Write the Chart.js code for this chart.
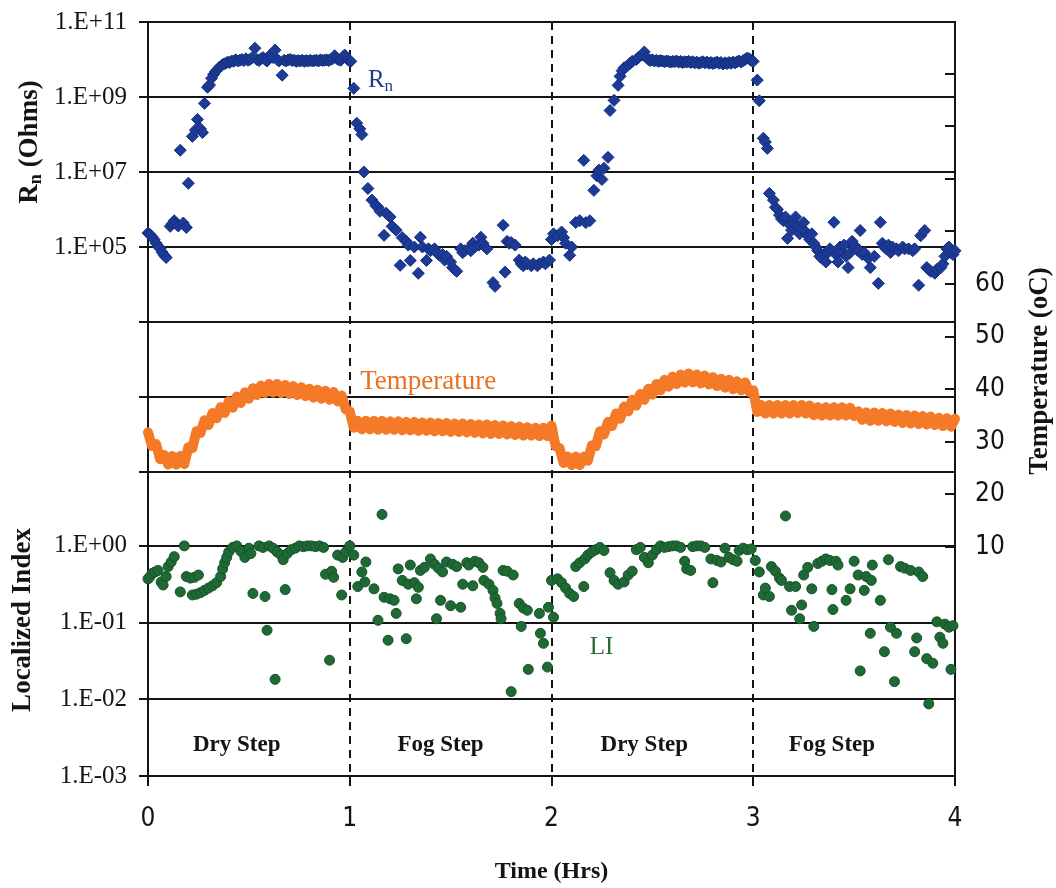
<!DOCTYPE html>
<html><head><meta charset="utf-8">
<script src="https://cdn.jsdelivr.net/npm/chart.js@4.4.1/dist/chart.umd.min.js"></script>
<style>html,body{margin:0;padding:0;background:#fff;}#wrap{width:1056px;height:888px;}</style>
</head><body><div id="wrap"><canvas id="c" width="1056" height="888"></canvas></div>
<script>
// ---------------- data ----------------
// Rn: time (h) and log10(Rn / Ohms)
const rnTime = [0.00,0.01,0.02,0.03,0.04,0.05,0.06,0.07,0.08,0.09,0.11,0.12,0.13,0.14,0.15,0.16,0.175,0.19,0.20,0.22,0.235,0.245,0.26,0.27,0.28,0.295,0.305,0.315,0.325,0.335,0.345,0.355,0.365,0.375,0.385,0.395,0.405,0.415,0.425,0.435,0.445,0.455,0.465,0.475,0.485,0.495,0.505,0.515,0.53,0.54,0.55,0.56,0.57,0.58,0.59,0.60,0.61,0.62,0.63,0.64,0.65,0.665,0.675,0.685,0.695,0.705,0.715,0.725,0.735,0.745,0.755,0.765,0.775,0.785,0.795,0.805,0.815,0.825,0.835,0.845,0.855,0.865,0.875,0.885,0.895,0.905,0.915,0.925,0.935,0.945,0.955,0.965,0.975,0.985,0.995,
1.005,1.02,1.035,1.05,1.06,1.07,1.09,1.11,1.13,1.14,1.15,1.17,1.18,1.20,1.21,1.23,1.25,1.26,1.28,1.29,1.30,1.32,1.34,1.35,1.36,1.38,1.39,1.40,1.42,1.43,1.44,1.46,1.47,1.48,1.50,1.51,1.52,1.53,1.55,1.56,1.57,1.59,1.60,1.61,1.62,1.64,1.65,1.66,1.67,1.68,1.71,1.72,1.76,1.77,1.78,1.79,1.80,1.82,1.84,1.85,1.86,1.87,1.88,1.90,1.91,1.93,1.94,1.96,1.97,1.99,
2.00,2.01,2.03,2.05,2.06,2.07,2.09,2.10,2.12,2.14,2.16,2.17,2.19,2.21,2.225,2.235,2.25,2.26,2.28,2.29,2.31,2.33,2.34,2.35,2.36,2.38,2.39,2.40,2.42,2.43,2.45,2.46,2.47,2.48,2.49,2.50,2.51,2.52,2.53,2.54,2.55,2.56,2.57,2.58,2.59,2.60,2.61,2.62,2.63,2.64,2.65,2.66,2.67,2.68,2.69,2.70,2.71,2.72,2.73,2.74,2.75,2.76,2.77,2.78,2.79,2.80,2.81,2.82,2.83,2.84,2.85,2.86,2.87,2.88,2.89,2.90,2.91,2.92,2.93,2.94,2.95,2.96,2.97,2.98,2.99,3.00,
3.02,3.03,3.05,3.06,3.07,3.08,3.10,3.11,3.12,3.13,3.14,3.15,3.16,3.17,3.18,3.19,3.20,3.21,3.22,3.23,3.24,3.25,3.26,3.27,3.28,3.29,3.30,3.31,3.32,3.33,3.34,3.35,3.36,3.37,3.38,3.40,3.41,3.42,3.43,3.44,3.45,3.46,3.47,3.48,3.49,3.50,3.51,3.52,3.53,3.54,3.55,3.57,3.58,3.60,3.62,3.63,3.64,3.65,3.66,3.67,3.68,3.69,3.71,3.72,3.74,3.75,3.77,3.79,3.80,3.82,3.83,3.85,3.86,3.87,3.88,3.90,3.91,3.93,3.94,3.95,3.96,3.97,3.98,3.99,4.00];
const rnLog10 = [5.37,5.33,5.27,5.20,5.10,5.02,4.96,4.86,4.78,4.72,5.55,5.62,5.70,5.62,5.56,7.58,5.64,5.52,6.70,7.95,8.12,8.40,8.15,8.05,8.83,9.26,9.32,9.50,9.60,9.68,9.74,9.80,9.84,9.88,9.90,9.93,9.92,9.96,9.95,9.99,9.96,9.98,10.00,9.97,10.02,9.98,10.00,10.04,10.30,10.00,9.97,10.02,10.05,10.00,9.96,10.08,10.14,10.05,10.25,10.00,9.96,9.58,9.98,9.96,9.99,10.00,9.97,9.98,9.95,9.97,9.96,9.98,9.95,9.97,9.96,9.98,9.96,9.97,9.98,9.96,9.99,9.97,9.98,9.99,9.97,10.00,10.02,10.10,10.03,9.99,9.98,10.06,10.12,10.02,9.98,
9.95,9.23,8.30,8.15,8.00,7.00,6.56,6.25,6.10,6.06,5.95,5.31,5.90,5.80,5.55,5.45,4.51,5.25,5.15,5.05,4.64,5.00,4.30,5.26,5.00,4.64,4.95,4.90,4.95,4.85,4.80,4.80,4.65,4.75,4.60,4.45,4.40,4.35,4.95,4.85,4.90,4.95,4.90,5.10,5.00,5.05,5.26,5.10,5.00,4.95,4.05,3.95,5.58,4.33,5.15,5.10,5.12,5.05,4.65,4.55,4.50,4.60,4.55,4.50,4.55,4.50,4.55,4.60,4.55,4.65,
5.20,5.35,5.30,5.40,5.25,5.10,4.78,5.00,5.65,5.70,7.31,5.65,5.70,6.51,6.90,7.05,6.80,7.10,7.39,8.64,8.91,9.31,9.55,9.70,9.78,9.85,9.90,9.95,10.00,10.05,10.12,10.20,10.05,10.00,9.97,9.99,9.96,9.98,9.95,9.97,9.96,9.94,9.96,9.95,9.93,9.95,9.94,9.96,9.93,9.95,9.92,9.94,9.93,9.95,9.92,9.94,9.91,9.93,9.90,9.92,9.94,9.91,9.93,9.90,9.92,9.89,9.91,9.93,9.90,9.92,9.88,9.91,9.89,9.92,9.90,9.93,9.91,9.94,9.96,9.93,9.97,10.00,10.04,10.02,9.97,9.95,
9.45,8.90,7.90,7.80,7.63,6.43,6.25,6.06,6.00,5.85,5.75,5.70,5.80,5.23,5.60,5.45,5.65,5.80,5.55,5.35,5.50,5.65,5.40,5.30,5.20,5.35,5.10,5.00,4.90,4.75,4.70,4.80,4.60,4.85,4.95,5.66,4.80,4.60,5.00,4.85,5.05,4.75,4.45,4.85,5.15,5.05,5.00,4.90,5.44,4.80,4.85,4.70,4.45,4.75,4.03,5.66,5.10,5.00,4.95,5.05,4.85,5.00,4.95,4.90,5.00,4.95,4.95,4.90,4.95,3.98,5.30,5.44,4.45,4.40,4.35,4.30,4.40,4.45,4.55,4.75,4.95,5.00,4.85,4.80,4.90];

// Temperature: time (h) and degrees C (upper / lower edge of the band alternate)
const tempTime = [0.00,0.02,0.04,0.06,0.08,0.10,0.12,0.14,0.16,0.18,0.20,0.22,0.24,0.26,0.28,0.30,0.32,0.34,0.36,0.38,0.40,0.42,0.44,0.46,0.48,0.50,0.52,0.54,0.56,0.58,0.60,0.62,0.64,0.66,0.68,0.70,0.72,0.74,0.76,0.78,0.80,0.82,0.84,0.86,0.88,0.90,0.92,0.94,0.96,0.98,
1.00,1.02,1.04,1.06,1.08,1.10,1.12,1.14,1.16,1.18,1.20,1.22,1.24,1.26,1.28,1.30,1.32,1.34,1.36,1.38,1.40,1.42,1.44,1.46,1.48,1.50,1.52,1.54,1.56,1.58,1.60,1.62,1.64,1.66,1.68,1.70,1.72,1.74,1.76,1.78,1.80,1.82,1.84,1.86,1.88,1.90,1.92,1.94,1.96,1.98,
2.00,2.02,2.04,2.06,2.08,2.10,2.12,2.14,2.16,2.18,2.20,2.22,2.24,2.26,2.28,2.30,2.32,2.34,2.36,2.38,2.40,2.42,2.44,2.46,2.48,2.50,2.52,2.54,2.56,2.58,2.60,2.62,2.64,2.66,2.68,2.70,2.72,2.74,2.76,2.78,2.80,2.82,2.84,2.86,2.88,2.90,2.92,2.94,2.96,2.98,
3.00,3.02,3.04,3.06,3.08,3.10,3.12,3.14,3.16,3.18,3.20,3.22,3.24,3.26,3.28,3.30,3.32,3.34,3.36,3.38,3.40,3.42,3.44,3.46,3.48,3.50,3.52,3.54,3.56,3.58,3.60,3.62,3.64,3.66,3.68,3.70,3.72,3.74,3.76,3.78,3.80,3.82,3.84,3.86,3.88,3.90,3.92,3.94,3.96,3.98,4.00];
const tempC = [31.8,29.2,29.6,26.7,27.5,25.7,27.3,25.7,27.3,25.8,29.0,28.8,32.0,31.7,34.1,33.2,35.5,34.5,36.6,35.5,37.7,36.5,38.6,37.4,39.4,38.2,40.2,38.9,40.7,39.3,41.0,39.4,41.0,39.3,40.8,39.1,40.6,38.9,40.4,38.7,40.1,38.4,39.9,38.2,39.7,38.0,39.5,37.7,38.8,36.2,
35.8,32.7,34.0,32.4,34.0,32.4,34.0,32.3,34.0,32.3,33.9,32.3,33.9,32.2,33.8,32.2,33.8,32.1,33.7,32.1,33.7,32.0,33.6,32.0,33.6,31.9,33.5,31.9,33.5,31.8,33.4,31.7,33.3,31.6,33.3,31.5,33.2,31.5,33.1,31.4,33.0,31.3,32.9,31.2,32.8,31.2,32.7,31.1,32.7,31.1,
33.1,29.2,28.8,26.0,27.2,25.6,27.2,25.6,27.2,26.4,29.3,29.2,32.0,31.4,33.8,33.0,35.4,34.4,36.7,35.8,38.0,36.9,39.1,38.0,40.1,39.0,41.0,39.8,41.8,40.5,42.4,41.0,42.8,41.3,43.0,41.3,42.8,41.1,42.6,40.9,42.3,40.6,42.0,40.3,41.8,40.0,41.5,39.8,41.3,39.5,
39.8,35.7,37.0,35.4,37.0,35.4,37.0,35.4,37.0,35.4,37.0,35.5,37.0,35.4,36.9,35.1,36.6,35.0,36.6,35.0,36.6,35.0,36.6,35.0,36.5,34.9,35.8,34.2,35.6,34.0,35.6,34.0,35.5,33.9,35.4,33.8,35.2,33.6,35.1,33.5,35.0,33.4,34.9,33.3,34.8,33.2,34.6,33.0,34.5,32.9,34.4];

// Localized Index: time (h) and log10(LI)
const liTime = [0.00,0.01,0.02,0.035,0.05,0.065,0.075,0.09,0.10,0.115,0.13,0.16,0.18,0.19,0.21,0.23,0.25,0.22,0.24,0.26,0.28,0.30,0.32,0.34,0.36,0.37,0.38,0.39,0.40,0.42,0.44,0.46,0.48,0.50,0.51,0.52,0.55,0.57,0.58,0.59,0.60,0.62,0.63,0.64,0.66,0.67,0.68,0.69,0.71,0.73,0.75,0.77,0.79,0.81,0.83,0.85,0.87,0.88,0.90,0.91,0.92,0.94,0.96,0.965,0.98,
1.00,1.02,1.04,1.06,1.075,1.08,1.12,1.14,1.16,1.17,1.19,1.20,1.22,1.23,1.24,1.26,1.28,1.29,1.30,1.32,1.33,1.34,1.35,1.37,1.40,1.42,1.43,1.44,1.45,1.46,1.48,1.50,1.51,1.53,1.55,1.56,1.58,1.59,1.61,1.62,1.64,1.66,1.665,1.69,1.71,1.72,1.73,1.745,1.75,1.76,1.78,1.80,1.81,1.84,1.85,1.86,1.88,1.885,1.94,1.945,1.96,1.98,1.985,
2.00,2.01,2.03,2.05,2.07,2.09,2.11,2.12,2.14,2.16,2.165,2.18,2.20,2.22,2.24,2.26,2.29,2.31,2.33,2.36,2.38,2.40,2.42,2.44,2.46,2.48,2.50,2.52,2.54,2.56,2.58,2.60,2.62,2.64,2.66,2.67,2.69,2.70,2.72,2.74,2.76,2.79,2.80,2.82,2.84,2.86,2.88,2.90,2.92,2.93,2.95,2.97,2.99,
3.01,3.03,3.05,3.06,3.08,3.09,3.11,3.13,3.14,3.16,3.18,3.19,3.21,3.23,3.24,3.25,3.27,3.29,3.30,3.32,3.34,3.36,3.38,3.39,3.395,3.41,3.42,3.46,3.48,3.50,3.52,3.53,3.55,3.56,3.58,3.585,3.59,3.63,3.65,3.67,3.68,3.70,3.71,3.73,3.75,3.78,3.80,3.81,3.82,3.84,3.86,3.87,3.89,3.91,3.925,3.94,3.95,3.97,3.98,3.99];
const liLog10 = [-0.43,-0.40,-0.36,-0.34,-0.32,-0.47,-0.51,-0.40,-0.27,-0.21,-0.14,-0.60,0.00,-0.40,-0.42,-0.41,-0.38,-0.64,-0.63,-0.61,-0.58,-0.55,-0.52,-0.48,-0.40,-0.30,-0.22,-0.15,-0.08,-0.02,0.00,-0.07,-0.15,-0.03,-0.10,-0.62,0.00,-0.02,-0.66,-1.10,0.00,-0.03,-1.74,-0.08,-0.12,-0.18,-0.57,-0.10,-0.05,-0.03,0.00,-0.01,0.00,0.00,-0.01,0.00,-0.02,-0.37,-1.49,-0.33,-0.41,-0.12,-0.64,-0.15,-0.08,
0.00,-0.12,-0.53,-0.34,-0.47,-0.21,-0.56,-0.97,0.41,-0.67,-1.23,-0.69,-0.71,-0.88,-0.30,-0.45,-1.21,-0.50,-0.25,-0.48,-0.69,-0.54,-0.32,-0.28,-0.17,-0.24,-0.95,-0.29,-0.71,-0.34,-0.21,-0.78,-0.24,-0.27,-0.80,-0.50,-0.22,-0.25,-0.52,-0.20,-0.22,-0.28,-0.45,-0.50,-0.58,-0.68,-0.75,-0.88,-0.95,-0.32,-0.33,-1.90,-0.38,-0.75,-1.05,-0.81,-0.84,-1.61,-0.88,-1.14,-1.27,-1.58,-0.80,
-0.45,-0.93,-0.43,-0.48,-0.55,-0.62,-0.66,-0.27,-0.22,-0.53,-0.17,-0.12,-0.08,-0.05,-0.02,-0.06,-0.35,-0.45,-0.50,-0.47,-0.38,-0.33,-0.05,-0.02,-0.15,-0.22,-0.12,-0.05,0.00,-0.02,-0.01,0.00,0.00,-0.02,-0.20,-0.30,-0.32,-0.01,0.00,0.00,-0.02,-0.17,-0.48,-0.19,-0.21,-0.03,-0.15,-0.18,-0.20,-0.06,-0.03,-0.05,-0.04,
-0.19,-0.34,-0.64,-0.55,-0.66,-0.27,-0.33,-0.42,-0.45,0.39,-0.53,-0.84,-0.53,-0.95,-0.77,-0.38,-0.28,-0.56,-1.05,-0.23,-0.20,-0.17,-0.19,-0.57,-0.83,-0.20,-0.25,-0.71,-0.56,-0.20,-0.38,-1.63,-0.58,-0.40,-1.14,-0.45,-0.25,-0.71,-1.38,-0.18,-1.06,-1.77,-1.14,-0.27,-0.29,-0.32,-1.38,-1.20,-0.34,-0.40,-1.47,-2.06,-1.53,-0.99,-1.19,-1.27,-1.02,-1.06,-1.61,-1.04];

// tick labels
const xTickValues = [0,1,2,3,4];
const xTickLabels = ['0','1','2','3','4'];
const rnTickValues = [1e-1,1e1,1e3,1e5,1e7,1e9,1e11];
const rnTickLabels = ['','','','1.E+05','1.E+07','1.E+09','1.E+11'];
const liTickValues = [1e-3,1e-2,1e-1,1e0];
const liTickLabels = ['1.E-03','1.E-02','1.E-01','1.E+00'];
const tTickValues = [10,20,30,40,50,60,70,80,90,100];
const tTickLabels = ['10','20','30','40','50','60','','','',''];
const stepLabels = ['Dry Step','Fog Step','Dry Step','Fog Step'];
const stepCenters = [0.44,1.45,2.46,3.39];

// ---------------- axis ranges (layout) ----------------
const RN_MIN = 7.8e-10, RN_MAX = 1e11;
const LI_MIN = 1e-3, LI_MAX = 6.76e6;
const T_MIN = -33.5, T_MAX = 109.8;

const SERIF = "'Liberation Serif','Times New Roman',serif";
const NARROW = "'Liberation Sans Narrow','DejaVu Sans Condensed',sans-serif";
const INK = '#141414';

const rnPoints = rnTime.map((t,i)=>({x:t, y:Math.pow(10, rnLog10[i])}));
const tempPoints = tempTime.map((t,i)=>({x:t, y:tempC[i]}));
const liPoints = liTime.map((t,i)=>({x:t, y:Math.pow(10, liLog10[i])}));

let leftLabels = [];

function drawParts(ctx, parts, cx, cy, rot, align){
  ctx.save();
  ctx.translate(cx, cy); ctx.rotate(rot);
  let total = 0;
  parts.forEach(p=>{ctx.font=p.font; p.w=ctx.measureText(p.t).width; total+=p.w;});
  let xx = align==='center' ? -total/2 : 0;
  ctx.textBaseline='middle'; ctx.textAlign='left';
  parts.forEach(p=>{ctx.font=p.font; ctx.fillStyle=p.color; ctx.fillText(p.t, xx, p.dy||0); xx+=p.w;});
  ctx.restore();
}

const textPlugin = {
  id:'texts',
  afterDraw(chart){
    const {ctx, chartArea, scales} = chart;
    const {x, yRn, yLI, yT} = scales;
    // inward tick marks of the temperature axis
    ctx.save();
    ctx.strokeStyle = INK; ctx.lineWidth = 2;
    tTickValues.forEach(v=>{
      const y = Math.round(yT.getPixelForValue(v));
      ctx.beginPath(); ctx.moveTo(chartArea.right-10, y); ctx.lineTo(chartArea.right, y); ctx.stroke();
    });
    ctx.restore();
    // axis titles
    drawParts(ctx, [
      {t:'R', font:`bold 27px ${SERIF}`, color:INK},
      {t:'n', font:`bold 18px ${SERIF}`, color:INK, dy:6},
      {t:' (Ohms)', font:`bold 27px ${SERIF}`, color:INK}], 30, 142, -Math.PI/2, 'center');
    drawParts(ctx, [{t:'Localized Index', font:`bold 27px ${SERIF}`, color:INK}], 23, 620, -Math.PI/2, 'center');
    drawParts(ctx, [{t:'Temperature (oC)', font:`bold 27px ${SERIF}`, color:INK}], 1040, 371, -Math.PI/2, 'center');
    // series annotations
    drawParts(ctx, [
      {t:'R', font:`25px ${SERIF}`, color:'#1f3a8f'},
      {t:'n', font:`17px ${SERIF}`, color:'#1f3a8f', dy:6}],
      x.getPixelForValue(1.09), yRn.getPixelForValue(Math.pow(10,9.45)), 0, 'left');
    drawParts(ctx, [{t:'Temperature', font:`27px ${SERIF}`, color:'#e8701f'}],
      x.getPixelForValue(1.052), yT.getPixelForValue(41.4), 0, 'left');
    drawParts(ctx, [{t:'LI', font:`25px ${SERIF}`, color:'#2b6e34'}],
      x.getPixelForValue(2.19), yLI.getPixelForValue(Math.pow(10,-1.33)), 0, 'left');
    stepLabels.forEach((s,i)=>{
      drawParts(ctx, [{t:s, font:`bold 23px ${SERIF}`, color:INK}],
        x.getPixelForValue(stepCenters[i]), yLI.getPixelForValue(Math.pow(10,-2.6)), 0, 'center');
    });
  }
};

function noVPad(s){ s.paddingTop = 0; s.paddingBottom = 0; }

new Chart(document.getElementById('c'), {
  type:'scatter',
  data:{datasets:[
    {label:'Rn', data:rnPoints, xAxisID:'x', yAxisID:'yRn', pointStyle:'rectRot', pointRadius:6,
     backgroundColor:'#1c3a96', borderColor:'#15307e', borderWidth:1, clip:false},
    {label:'Temperature', data:tempPoints, xAxisID:'x', yAxisID:'yT', showLine:true,
     borderColor:'#f57a28', borderWidth:10, borderJoinStyle:'round', borderCapStyle:'round', tension:0,
     pointStyle:'triangle', pointRadius:5, pointBackgroundColor:'#f57a28', pointBorderColor:'#f57a28', pointBorderWidth:0, clip:false},
    {label:'LI', data:liPoints, xAxisID:'x', yAxisID:'yLI', pointStyle:'circle', pointRadius:5,
     backgroundColor:'#1f6a34', borderColor:'#15532a', borderWidth:1, clip:false}
  ]},
  options:{
    responsive:false, animation:false, devicePixelRatio:1,
    layout:{padding:{top:22,left:0,right:0,bottom:0}, autoPadding:false},
    plugins:{legend:{display:false}, tooltip:{enabled:false}},
    scales:{
      x:{type:'linear', position:'bottom', min:0, max:4,
        afterBuildTicks:s=>{s.ticks = xTickValues.map(v=>({value:v}));},
        afterFit:s=>{s.height = 112;},
        ticks:{autoSkip:false, padding:18, color:INK, font:{family:NARROW, size:26},
          callback:(v,i)=>xTickLabels[i]},
        grid:{color:c=>(c.tick && c.tick.value>0 && c.tick.value<4)?INK:'rgba(0,0,0,0)', lineWidth:2,
          drawTicks:true, tickLength:10, tickColor:INK, tickWidth:2},
        border:{display:true, color:INK, width:2, dash:[8,6]},
        title:{display:true, text:'Time (Hrs)', color:INK, font:{family:SERIF, size:24, weight:'bold'}, padding:{top:4,bottom:2}}
      },
      yRn:{type:'logarithmic', position:'left', min:RN_MIN, max:RN_MAX,
        afterBuildTicks:s=>{
          const L = Math.log10;
          const ticks = rnTickValues.map((v,i)=>({value:v, label:rnTickLabels[i]}));
          liTickValues.forEach((v,i)=>{
            const f = (L(v)-L(LI_MIN))/(L(LI_MAX)-L(LI_MIN));
            ticks.push({value:Math.pow(10, L(RN_MIN)+f*(L(RN_MAX)-L(RN_MIN))), label:liTickLabels[i]});
          });
          ticks.sort((a,b)=>a.value-b.value);
          leftLabels = ticks.map(t=>t.label);
          s.ticks = ticks.map(t=>({value:t.value}));
        },
        afterFit:s=>{s.width = 148; noVPad(s);},
        ticks:{autoSkip:false, padding:12, color:INK, font:{family:SERIF, size:25},
          callback:(v,i)=>leftLabels[i]},
        grid:{color:INK, lineWidth:2, drawTicks:true, tickLength:9, tickColor:INK, tickWidth:2},
        border:{display:true, color:INK, width:2}
      },
      yLI:{type:'logarithmic', display:false, min:LI_MIN, max:LI_MAX},
      yT:{type:'linear', position:'right', min:T_MIN, max:T_MAX,
        afterBuildTicks:s=>{s.ticks = tTickValues.map(v=>({value:v}));},
        afterFit:s=>{s.width = 101; noVPad(s);},
        ticks:{autoSkip:false, padding:20, color:INK, font:{family:NARROW, size:26},
          callback:(v,i)=>tTickLabels[i]},
        grid:{display:false, drawTicks:false, drawOnChartArea:false},
        border:{display:true, color:INK, width:2}
      }
    }
  },
  plugins:[textPlugin]
});
</script>
</body></html>
